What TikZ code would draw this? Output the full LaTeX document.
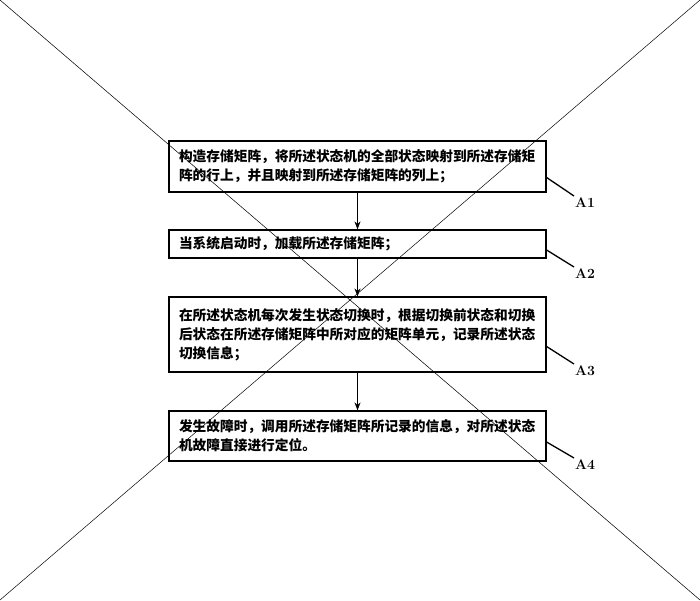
\documentclass[tikz,border=0pt]{standalone}
\usepackage{fontspec}
\newfontfamily\cjk{Noto Sans CJK SC}
\usetikzlibrary{arrows.meta}
\tikzset{
  procbox/.style={draw, line width=1.2pt, text width=357pt, inner xsep=10pt, align=left, font=\cjk\bfseries\fontsize{13.7}{19}\selectfont},
  flow/.style={-{Stealth[length=8pt,width=6pt]}, line width=1.1pt},
  leader/.style={line width=1.3pt},
  tag/.style={anchor=north west, inner sep=1pt, font=\bfseries\fontsize{14}{14}\selectfont},
  cross/.style={line width=0.5pt}
}
\begin{document}
\begin{tikzpicture}[x=1pt,y=-1pt]
\useasboundingbox (0,0) rectangle (700,600);
% the two crossing lines
\coordinate (tl) at (0,0);
\coordinate (br) at (700,600);
\coordinate (tr) at (700,0);
\coordinate (bl) at (0,600);
\draw[cross] (tl) -- (br);
\draw[cross] (tr) -- (bl);
% steps
\node[procbox, minimum height=51pt] (a1) at (357.5,166.5) {构造存储矩阵，将所述状态机的全部状态映射到所述存储矩\\阵的行上，并且映射到所述存储矩阵的列上；};
\node[procbox, minimum height=28pt] (a2) at (357.5,244) {当系统启动时，加载所述存储矩阵；};
\node[procbox, minimum height=75pt] (a3) at (357.5,334.5) {在所述状态机每次发生状态切换时，根据切换前状态和切换\\后状态在所述存储矩阵中所对应的矩阵单元，记录所述状态\\切换信息；};
\node[procbox, minimum height=50pt] (a4) at (357.5,436) {发生故障时，调用所述存储矩阵所记录的信息，对所述状态\\机故障直接进行定位。};
\draw[flow] (a1) -- (a2);
\draw[flow] (a2) -- (a3);
\draw[flow] (a3) -- (a4);
% labels
\node[tag] (l1) at (574,196) {A1};
\node[tag] (l2) at (574,267) {A2};
\node[tag] (l3) at (574,364) {A3};
\node[tag] (l4) at (574,458) {A4};
\draw[leader] ([yshift=-11pt]a1.east) -- (l1.north west);
\draw[leader] ([yshift=-6pt]a2.east) -- (l2.north west);
\draw[leader] ([yshift=-12pt]a3.east) -- (l3.north west);
\draw[leader] ([yshift=-6pt]a4.east) -- (l4.north west);
\end{tikzpicture}
\end{document}
